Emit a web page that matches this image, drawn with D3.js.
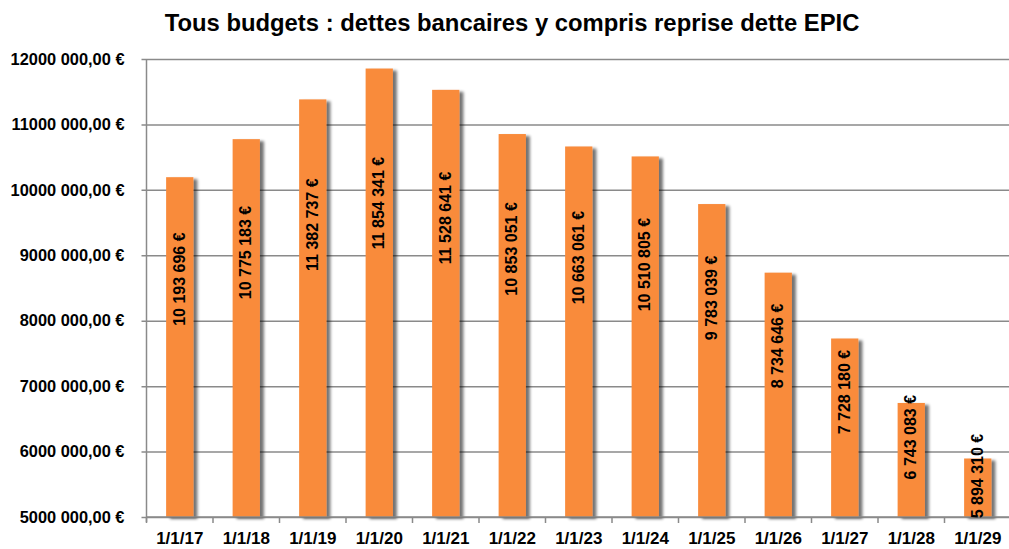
<!DOCTYPE html>
<html><head><meta charset="utf-8">
<script src="https://cdn.jsdelivr.net/npm/d3@7"></script>
<style>
html,body{margin:0;padding:0;background:#fff;}
svg{display:block;}
text{font-family:"Liberation Sans",Arial,sans-serif;font-weight:bold;fill:#000;}
</style></head>
<body>
<svg id="chart" width="1009" height="549"></svg>
<script>
const title = "Tous budgets : dettes bancaires y compris reprise dette EPIC";
const categories = ["1/1/17","1/1/18","1/1/19","1/1/20","1/1/21","1/1/22","1/1/23","1/1/24","1/1/25","1/1/26","1/1/27","1/1/28","1/1/29"];
const values = [10193696,10775183,11382737,11854341,11528641,10853051,10663061,10510805,9783039,8734646,7728180,6743083,5894310];
const yTicks = [5000000,6000000,7000000,8000000,9000000,10000000,11000000,12000000];
const yTickLabels = ["5000 000,00 €","6000 000,00 €","7000 000,00 €","8000 000,00 €","9000 000,00 €","10000 000,00 €","11000 000,00 €","12000 000,00 €"];

const svg = d3.select("#chart");
const pLeft = 146.5, pRight = 1011, pTop = 59, pBottom = 517;

const x = d3.scaleBand().domain(categories).range([pLeft, pRight]).paddingInner(0.59).paddingOuter(0.295);
const y = d3.scaleLinear().domain([5000000, 12000000]).range([pBottom, pTop]);

const defs = svg.append("defs");
const f = defs.append("filter").attr("id","sh").attr("x","-30%").attr("y","-10%").attr("width","180%").attr("height","130%");
f.append("feGaussianBlur").attr("in","SourceAlpha").attr("stdDeviation",1.8).attr("result","b");
f.append("feOffset").attr("in","b").attr("dx",3.5).attr("dy",2).attr("result","o");
f.append("feComponentTransfer").attr("in","o").attr("result","o2").append("feFuncA").attr("type","linear").attr("slope",0.55);
const m = f.append("feMerge");
m.append("feMergeNode").attr("in","o2");
m.append("feMergeNode").attr("in","SourceGraphic");

// title
const t = svg.append("text").attr("x", 512).attr("y", 31).attr("text-anchor","middle").style("font-size","22px").text(title);
const tw = t.node().getComputedTextLength();
t.style("font-size", (22*695/tw).toFixed(2)+"px");

// gridlines + y axis
const yAxis = d3.axisLeft(y).tickValues(yTicks).tickSize(5).tickFormat((d,i)=>yTickLabels[i]);
const gy = svg.append("g").attr("transform",`translate(${pLeft},0)`).call(yAxis);
gy.select(".domain").attr("stroke","#8a8a8a").attr("stroke-width",1.5).attr("d",`M0,${pTop}V${pBottom+5}`);
gy.selectAll(".tick line").attr("stroke","#8a8a8a").attr("stroke-width",1.5).attr("x2", pRight-pLeft).attr("x1",-5);
gy.selectAll(".tick text").attr("x",-22).style("font-size","16.4px").style("font-family",'"Liberation Sans",Arial,sans-serif').style("font-weight","bold").attr("fill","#000");

// x axis
const xAxis = d3.axisBottom(x).tickSize(0).tickPadding(15);
const gx = svg.append("g").attr("transform",`translate(0,${pBottom})`).call(xAxis);
gx.select(".domain").remove();
gx.selectAll(".tick text").style("font-size","17px").style("font-family",'"Liberation Sans",Arial,sans-serif').style("font-weight","bold").attr("fill","#000");
const step = x.step();
const x0 = x(categories[0]) - x.paddingOuter()*step;
gx.selectAll(".bound").data(d3.range(categories.length+1)).enter().append("line")
  .attr("x1",i=>x0 + i*step).attr("x2",i=>x0 + i*step)
  .attr("y1",0).attr("y2",6).attr("stroke","#8a8a8a").attr("stroke-width",1.5);

// bars
svg.append("g").selectAll("rect").data(values).enter().append("rect")
  .attr("x",(d,i)=>x(categories[i]))
  .attr("y",d=>y(d))
  .attr("width",x.bandwidth())
  .attr("height",d=>pBottom-y(d))
  .attr("fill","#F98B3B")
  .attr("filter","url(#sh)");

// axis line over bars
svg.append("line").attr("x1",pLeft).attr("x2",pRight).attr("y1",pBottom).attr("y2",pBottom).attr("stroke","#8a8a8a").attr("stroke-width",1.5);

// value labels
const fmt = v => d3.format(",")(v).replace(/,/g," ") + " €";
svg.append("g").selectAll("text").data(values).enter().append("text")
  .attr("transform",(d,i)=>{
    const cx = x(categories[i]) + x.bandwidth()/2 + 5;
    const cy = y(d) + 0.3*(pBottom - y(d));
    return `translate(${cx},${cy}) rotate(-90)`;
  })
  .attr("text-anchor","middle")
  .style("font-size","16px")
  .text(fmt);
</script>
</body></html>
